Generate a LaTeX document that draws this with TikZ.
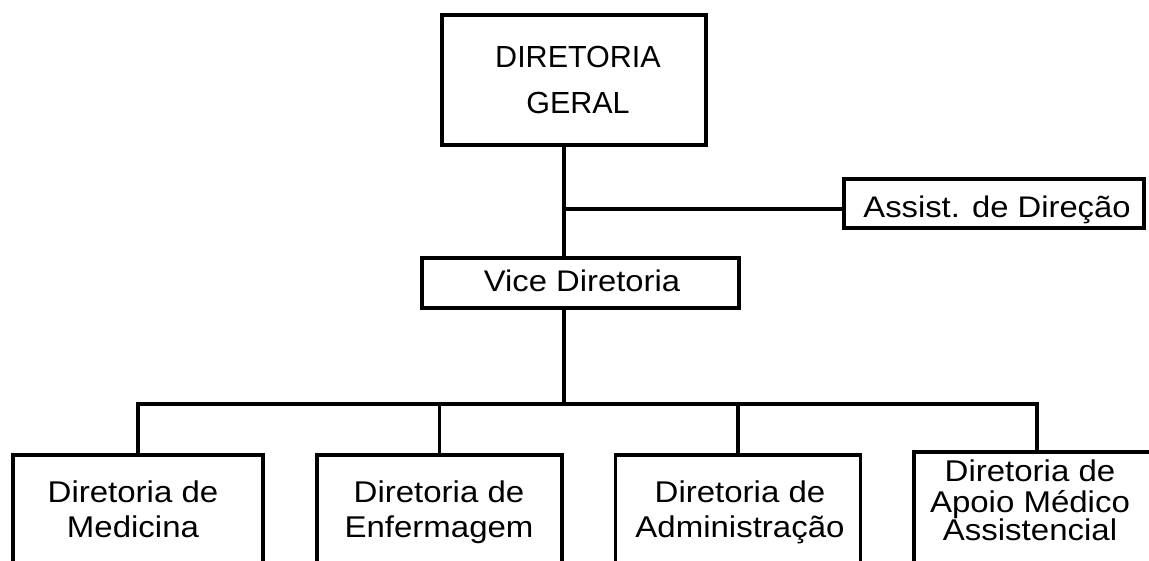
\documentclass[tikz,border=0pt]{standalone}
\usepackage{fontspec}
\setmainfont{Liberation Sans}[FakeStretch=1.1]
\newfontfamily\capsfont{Liberation Sans}
\begin{document}
\begin{tikzpicture}[x=1pt,y=-1pt,
  line width=3.1pt, line join=miter,
  orgbox/.style={draw, rectangle, inner sep=0pt, outer sep=0pt},
  lbl/.style={inner sep=0pt, outer sep=0pt, align=center},
  lowtxt/.style={lbl, font=\fontsize{30}{35}\selectfont},
  tall/.style={orgbox, anchor=north, minimum height=170pt}
]
\useasboundingbox (0,0) rectangle (1149,560);
\clip (0,0) rectangle (1149,560);

% boxes
\node[orgbox, minimum width=264pt, minimum height=130pt] (dg) at (574,80) {};
\node[lbl, font=\capsfont\fontsize{30.5}{46}\selectfont] (dgt) at (578,80.8) {\strut DIRETORIA\\GERAL\strut};

\node[orgbox, minimum width=300pt, minimum height=49pt] (aa) at (994,203.5) {};
\node[lbl, anchor=base, font=\fontsize{29.8}{35}\selectfont] (aat) at (997,217) {Assist. de Direção};

\node[orgbox, minimum width=317pt, minimum height=50pt] (vd) at (580.5,283) {};
\node[lbl, anchor=base, font=\fontsize{29.8}{35}\selectfont] (vdt) at (582,291) {Vice Diretoria};

\node[tall, minimum width=250pt] (med) at (138,455) {};
\node[lowtxt] (medt) at (133,512.5) {\strut Diretoria de\\Medicina\strut};

\node[tall, minimum width=245pt] (enf) at (439.5,455) {};
\node[lowtxt] (enft) at (439,512.5) {\strut Diretoria de\\Enfermagem\strut};

\node[tall, minimum width=245pt] (adm) at (738,455) {};
\node[lowtxt] (admt) at (740,512.5) {\strut Diretoria de\\Administração\strut};

\node[tall, minimum width=246pt] (apo) at (1037,452) {};
\node[lbl, font=\fontsize{30}{28}\selectfont] (apot) at (1030,504.4) {\strut Diretoria de\\Apoio Médico\\Assistencial\strut};

% junctions
\coordinate (jv) at (564,209);
\coordinate (bus) at (564,404);

% connectors
\draw (dg.south -| jv) -- (vd.north -| jv);
\draw (jv) -- (aa.west |- jv);
\draw (vd.south -| bus) -- (bus);
\draw (med.north) |- (bus);
\draw (apo.north) |- (bus);
\draw (enf.north) -- (enf.north |- bus);
\draw (adm.north) -- (adm.north |- bus);
\end{tikzpicture}
\end{document}
